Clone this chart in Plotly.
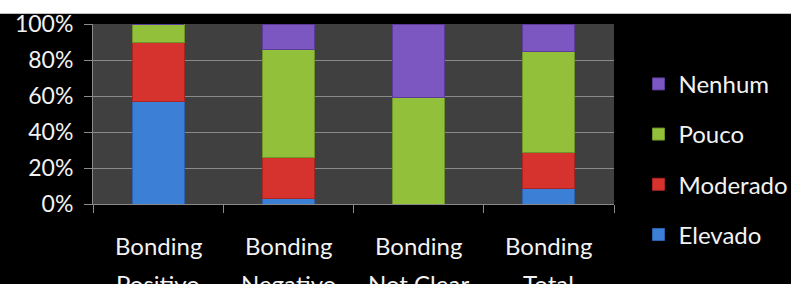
import plotly.graph_objects as go

categories = ["Bonding Positivo", "Bonding Negativo", "Bonding Not Clear", "Bonding Total"]
label_line1 = ["Bonding", "Bonding", "Bonding", "Bonding"]
label_line2 = ["Positivo", "Negativo", "Not Clear", "Total"]

series_names = ["Elevado", "Moderado", "Pouco", "Nenhum"]
elevado = [57, 3, 0, 8.5]
moderado = [33, 23, 0, 20]
pouco = [10, 60, 59, 56]
nenhum = [0, 14, 41, 15.5]
series_values = [elevado, moderado, pouco, nenhum]
colors = ["#3b7fd6", "#d6332f", "#93c03a", "#7c57c2"]
line_colors = ["#2a62ad", "#a82522", "#6f9428", "#5b3d98"]

y_ticks = [0, 20, 40, 60, 80, 100]
y_ticktext = ["0%", "20%", "40%", "60%", "80%", "100%"]

FONT = "Lato"
FS = 23

fig = go.Figure()
for i, (name, vals, c, lc) in enumerate(zip(series_names, series_values, colors, line_colors)):
    fig.add_trace(go.Bar(
        x=categories, y=vals, name=name, legendgroup=name,
        legendrank=len(series_names) - i,
        marker=dict(color=c, line=dict(color=lc, width=1)),
    ))

annotations = []
for cat, l1, l2 in zip(categories, label_line1, label_line2):
    annotations.append(dict(x=cat, y=-0.23, xref="x", yref="paper", text=l1,
                            showarrow=False, yanchor="middle",
                            font=dict(family=FONT, size=24, color="#f2f2f2")))
    annotations.append(dict(x=cat, y=-0.44, xref="x", yref="paper", text=l2,
                            showarrow=False, yanchor="middle",
                            font=dict(family=FONT, size=24, color="#f2f2f2")))

fig.update_layout(
    width=791, height=284,
    margin=dict(l=93, r=177, t=24, b=80, pad=0, autoexpand=False),
    paper_bgcolor="#000000",
    plot_bgcolor="#404040",
    barmode="stack",
    bargap=0.6,
    font=dict(family=FONT, size=FS, color="#f2f2f2"),
    showlegend=True,
    legend=dict(
        x=1.047, xanchor="left", y=0.79, yanchor="top",
        traceorder="grouped", tracegroupgap=16,
        maxheight=260,
        font=dict(family=FONT, size=24, color="#f2f2f2"),
        bgcolor="rgba(0,0,0,0)",
    ),
    xaxis=dict(
        type="category",
        showticklabels=False,
        ticks="outside", tickson="boundaries", ticklen=8, tickcolor="#8a8a8a",
        showline=True, linecolor="#8a8a8a", linewidth=1,
        showgrid=False,
    ),
    yaxis=dict(
        range=[0, 100],
        tickvals=y_ticks, ticktext=y_ticktext,
        ticks="outside", ticklen=8, tickcolor="#8a8a8a",
        showline=True, linecolor="#8a8a8a", linewidth=1,
        showgrid=True, gridcolor="#8a8a8a", gridwidth=1,
        zeroline=False,
        automargin=False,
        ticklabelstandoff=6,
        tickfont=dict(family=FONT, size=FS, color="#f2f2f2"),
    ),
    annotations=annotations,
    shapes=[dict(type="rect", xref="paper", yref="paper",
                 x0=-0.5, x1=2, y0=1.057, y1=1.4,
                 fillcolor="#ffffff", line=dict(width=0), layer="above")],
)

fig.write_html("out.html", config={"displayModeBar": False},
               post_script="document.body.style.margin='0';document.body.style.background='#000';")
